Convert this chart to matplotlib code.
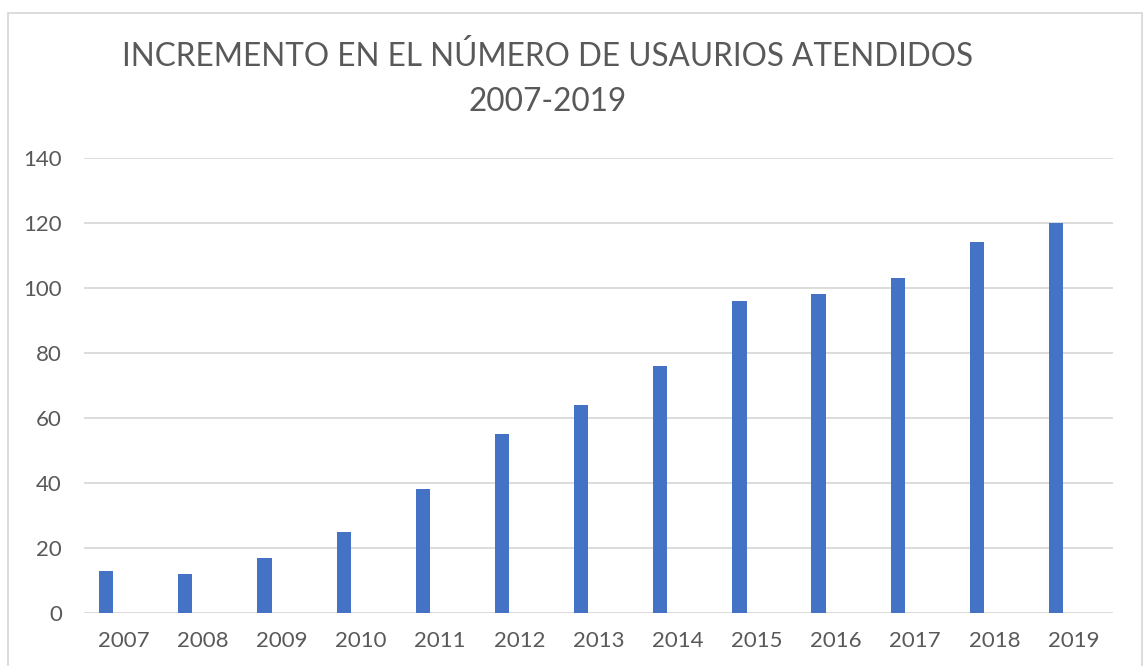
import matplotlib.pyplot as plt
from matplotlib.patches import Rectangle
import numpy as np

years = ['2007', '2008', '2009', '2010', '2011', '2012', '2013',
         '2014', '2015', '2016', '2017', '2018', '2019']
usuarios = [13, 12, 17, 25, 38, 55, 64, 76, 96, 98, 103, 114, 120]

plt.rcParams['font.family'] = ['Lato', 'DejaVu Sans']

fig = plt.figure(figsize=(11.43, 6.66), dpi=100)
ax = fig.add_axes([0.0735, 0.0796, 0.9003, 0.6832])

x = np.arange(len(years))
ax.bar(x - 0.22, usuarios, width=0.18, color='#4472C4', zorder=3)

ax.set_xlim(-0.5, len(years) - 0.5)
ax.set_ylim(0, 140)
ax.set_yticks(range(0, 141, 20))
ax.set_xticks(x)
ax.set_xticklabels(years)
ax.grid(axis='y', color='#d9d9d9', linewidth=1.3, zorder=0)
ax.tick_params(length=0, labelsize=16, labelcolor='#595959')
ax.tick_params(axis='y', pad=16)
ax.tick_params(axis='x', pad=13)
for s in ax.spines.values():
    s.set_visible(False)

fig.text(0.479, 0.915, 'INCREMENTO EN EL NÚMERO DE USAURIOS ATENDIDOS',
         ha='center', va='center', fontsize=22.7, color='#595959')
fig.text(0.479, 0.847, '2007-2019', ha='center', va='center',
         fontsize=22.7, color='#595959')

# chart frame
fig.patches.append(Rectangle((8 / 1143, -0.1), 1134 / 1143, 1.1 - 13 / 666,
                             transform=fig.transFigure, fill=False,
                             edgecolor='#d9d9d9', linewidth=1.3))

fig.savefig('out.png', dpi=100)
